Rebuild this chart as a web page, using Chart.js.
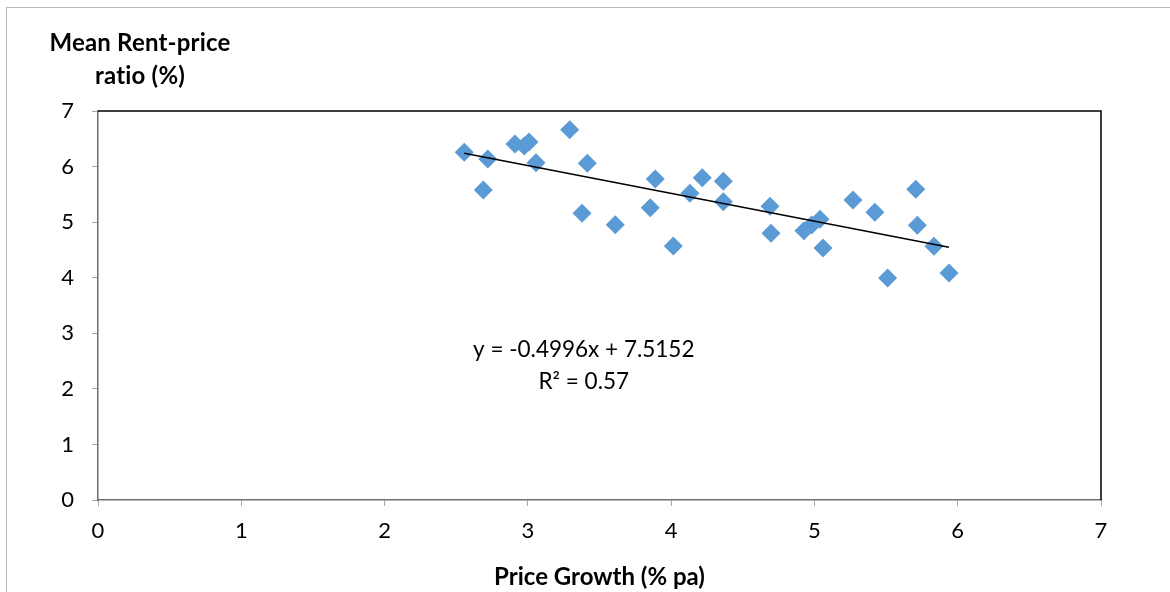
<!DOCTYPE html>
<html>
<head>
<meta charset="utf-8">
<script src="https://cdn.jsdelivr.net/npm/chart.js@4.4.1/dist/chart.umd.min.js"></script>
<style>
html,body{margin:0;padding:0;background:#fff;overflow:hidden;}
#wrap{position:absolute;left:0;top:0;width:1170px;height:592px;}
#frame{position:absolute;left:6px;top:7px;width:1300px;height:700px;border-top:1.5px solid #b8b8b8;border-left:1.5px solid #b8b8b8;}
canvas{position:absolute;left:0;top:0;}
</style>
</head>
<body>
<div id="wrap">
<div id="frame"></div>
<canvas id="c" width="1170" height="592"></canvas>
</div>
<script>
const priceGrowth = [2.556,2.720,2.689,2.910,3.008,2.975,3.057,3.292,3.415,3.378,3.610,3.889,3.854,4.015,4.131,4.217,4.364,4.364,4.690,4.697,4.927,4.981,5.039,5.060,5.269,5.422,5.511,5.707,5.718,5.834,5.939];
const rentPrice   = [6.257,6.136,5.579,6.406,6.440,6.370,6.070,6.664,6.059,5.159,4.954,5.777,5.260,4.571,5.519,5.800,5.735,5.368,5.285,4.799,4.846,4.949,5.051,4.535,5.398,5.177,3.993,5.591,4.943,4.565,4.085];
const trendSlope = -0.4996;
const trendIntercept = 7.5152;
const rSquared = 0.57;
const xTicks = [0,1,2,3,4,5,6,7];
const yTicks = [0,1,2,3,4,5,6,7];
const xTitle = 'Price Growth (% pa)';
const yTitleLines = ['Mean Rent-price','ratio (%)'];

const scatterData = priceGrowth.map((x,i)=>({x:x,y:rentPrice[i]}));
const xMin = Math.min(...priceGrowth), xMax = Math.max(...priceGrowth);
const trendData = [{x:xMin,y:trendSlope*xMin+trendIntercept},{x:xMax,y:trendSlope*xMax+trendIntercept}];

const FONT = 'Lato, "Open Sans", sans-serif';

const extras = {
  id:'extras',
  afterDraw(chart){
    const ctx = chart.ctx, a = chart.chartArea;
    ctx.save();
    ctx.strokeStyle = '#000';
    ctx.lineWidth = 1.5;
    ctx.beginPath();
    ctx.moveTo(a.left, a.top);
    ctx.lineTo(a.right, a.top);
    ctx.lineTo(a.right, a.bottom);
    ctx.stroke();
    ctx.fillStyle = '#000';
    ctx.font = 'bold 24px ' + FONT;
    ctx.textAlign = 'center';
    ctx.textBaseline = 'middle';
    try { ctx.letterSpacing = '0.2px'; } catch(e) {}
    ctx.fillText(yTitleLines[0], 140, 43);
    ctx.fillText(yTitleLines[1], 140, 76);
    try { ctx.letterSpacing = '0px'; } catch(e) {}
    const xs = chart.scales.x, ys = chart.scales.y;
    const cx = xs.getPixelForValue(3.39);
    const cy = ys.getPixelForValue(2.71);
    ctx.font = '22.5px ' + FONT;
    const sign = trendIntercept >= 0 ? '+' : '-';
    ctx.fillText('y = ' + trendSlope.toFixed(4) + 'x ' + sign + ' ' + Math.abs(trendIntercept).toFixed(4), cx, cy);
    ctx.fillText('R\u00B2 = ' + rSquared.toFixed(2), cx, cy + 32);
    ctx.restore();
  }
};

new Chart(document.getElementById('c'), {
  type:'scatter',
  data:{
    datasets:[
      {
        label:'data',
        data:scatterData,
        pointStyle:'rectRot',
        pointRadius:9.5,
        pointHoverRadius:9.5,
        backgroundColor:'#5B9BD5',
        borderColor:'#5B9BD5',
        borderWidth:0,
        order:2
      },
      {
        label:'trend',
        type:'line',
        data:trendData,
        borderColor:'#000',
        borderWidth:1.5,
        pointRadius:0,
        fill:false,
        order:1
      }
    ]
  },
  plugins:[extras],
  options:{
    responsive:false,
    animation:false,
    layout:{padding:{top:111,right:69,left:0,bottom:0}},
    plugins:{legend:{display:false},tooltip:{enabled:false}},
    scales:{
      x:{
        type:'linear',
        min:0,max:7,
        afterBuildTicks(s){ s.ticks = xTicks.map(v=>({value:v})); },
        afterFit(s){ s.height = 92; },
        grid:{drawOnChartArea:false,drawTicks:true,tickLength:6,color:'#a6a6a6',tickColor:'#a6a6a6'},
        border:{display:true,color:'#6e6e6e',width:1.5},
        ticks:{color:'#000',font:{family:FONT,size:22},padding:12},
        title:{display:true,text:xTitle,color:'#000',font:{family:FONT,size:24,weight:'bold'},padding:{top:10,bottom:0}}
      },
      y:{
        type:'linear',
        min:0,max:7,
        afterBuildTicks(s){ s.ticks = yTicks.map(v=>({value:v})); },
        afterFit(s){ s.width = 98; },
        grid:{drawOnChartArea:false,drawTicks:true,tickLength:6,color:'#a6a6a6',tickColor:'#a6a6a6'},
        border:{display:true,color:'#6e6e6e',width:1.5},
        ticks:{color:'#000',font:{family:FONT,size:22},padding:18}
      }
    }
  }
});
</script>
</body>
</html>
